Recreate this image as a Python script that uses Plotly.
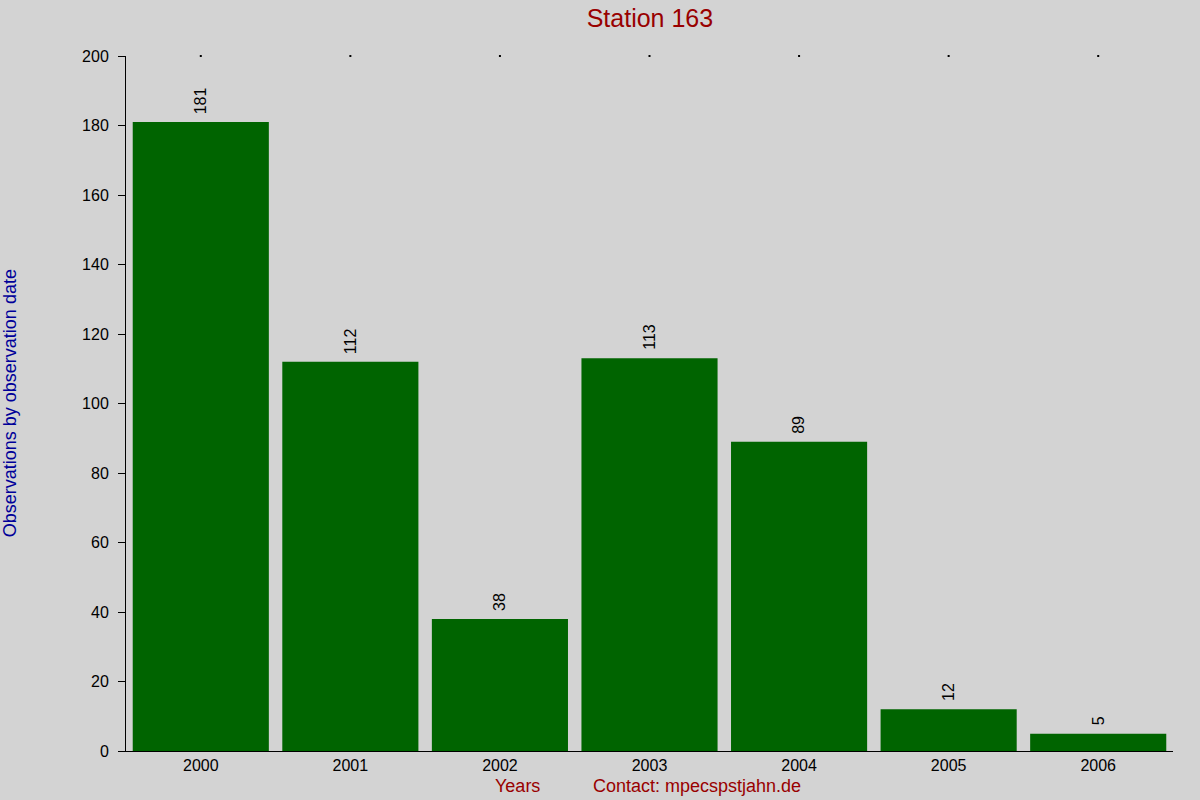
import plotly.graph_objects as go

years = ["2000", "2001", "2002", "2003", "2004", "2005", "2006"]
observations = [181, 112, 38, 113, 89, 12, 5]
y_ticks = [0, 20, 40, 60, 80, 100, 120, 140, 160, 180, 200]

FONT = "Liberation Sans, Arial, sans-serif"

fig = go.Figure()

fig.add_trace(go.Bar(
    x=years,
    y=observations,
    marker=dict(color="#006400", line=dict(width=0)),
    hoverinfo="x+y",
))

# tiny tick dots along the top edge
fig.add_trace(go.Scatter(
    x=years,
    y=[200] * len(years),
    mode="markers",
    marker=dict(color="#000000", size=2, symbol="square"),
    cliponaxis=False,
    hoverinfo="skip",
))

# value labels, rotated, sitting a little above each bar
# (category axis: annotation x is the category index)
value_labels = [
    dict(x=i, y=val, text=str(val), textangle=-90,
         xref="x", yref="y", xanchor="center", yanchor="bottom",
         yshift=6, showarrow=False,
         font=dict(family=FONT, size=16, color="#000000"))
    for i, val in enumerate(observations)
]

fig.update_layout(
    width=1200,
    height=800,
    paper_bgcolor="#D3D3D3",
    plot_bgcolor="#D3D3D3",
    showlegend=False,
    bargap=0.09,
    margin=dict(l=126, r=27, t=56, b=49),
    font=dict(family=FONT, size=16, color="#000000"),
    title=dict(
        text="Station 163",
        x=0.5416, xanchor="center",
        y=0.977, yanchor="middle",
        font=dict(size=25, color="#990000"),
    ),
    xaxis=dict(
        type="category",
        range=[-0.5, len(years) - 0.5],
        showline=True, linecolor="#000000", linewidth=1,
        showgrid=False, ticks="", tickfont=dict(size=16),
        zeroline=False,
    ),
    yaxis=dict(
        range=[0, 200],
        tickvals=y_ticks,
        showline=True, linecolor="#000000", linewidth=1,
        showgrid=False, ticks="outside", ticklen=7, tickcolor="#000000",
        ticklabelstandoff=6,
        tickfont=dict(size=16), zeroline=False,
    ),
    annotations=value_labels + [
        dict(text="Observations by observation date", textangle=-90,
             xref="paper", yref="paper", x=-0.1225, y=0.5,
             xanchor="left", yanchor="middle", showarrow=False,
             font=dict(size=18, color="#000099")),
        dict(text="Years", xref="paper", yref="paper",
             x=0.374, y=-0.05, xanchor="center", yanchor="middle",
             showarrow=False, font=dict(size=18, color="#990000")),
        dict(text="Contact: mpecspstjahn.de", xref="paper", yref="paper",
             x=0.545, y=-0.05, xanchor="center", yanchor="middle",
             showarrow=False, font=dict(size=18, color="#990000")),
    ],
)

fig.write_html(
    "out.html",
    config={"displayModeBar": False},
    post_script="document.body.style.margin='0';"
                "document.body.style.background='#D3D3D3';",
)
